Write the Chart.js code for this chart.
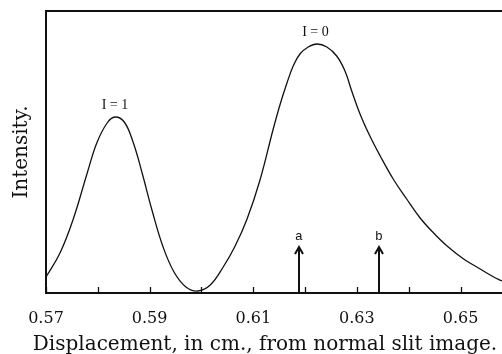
<!DOCTYPE html>
<html>
<head>
<meta charset="utf-8">
<script src="https://cdn.jsdelivr.net/npm/chart.js@4"></script>
<style>
  html, body { margin: 0; padding: 0; background: #fff; }
  #wrap { width: 502px; height: 354px; }
</style>
</head>
<body>
<div id="wrap"><canvas id="spectrum"></canvas></div>
<script>
// displacement (cm) and intensity (arbitrary units)
const displacement = [
  0.5700, 0.5727, 0.5752, 0.5779, 0.5798, 0.5818, 0.5833, 0.5851, 0.5868, 0.5885,
  0.5905, 0.5926, 0.5947, 0.5970, 0.5993, 0.6017, 0.6042, 0.6065, 0.6088, 0.6113,
  0.6138, 0.6152, 0.6165, 0.6177, 0.6190, 0.6206, 0.6223, 0.6242, 0.6261, 0.6277,
  0.6290, 0.6306, 0.6325, 0.6345, 0.6370, 0.6396, 0.6422, 0.6448, 0.6474, 0.6506,
  0.6538, 0.6564, 0.6580
];
const intensity = [
  16, 40, 73, 119, 150, 170, 176, 171, 151, 121,
  82, 46, 21, 6, 2, 8, 26, 47, 74, 113,
  163, 189, 210, 227, 239, 246, 249, 246, 237, 222,
  202, 179, 157, 137, 114, 94, 75, 60, 47, 34,
  24, 16, 12
];

const tickLabels = ["0.57", "", "0.59", "", "0.61", "", "0.63", "", "0.65"];
const xTitle = "Displacement, in cm., from normal slit image.";

const peakLabels = ["I = 1", "I = 0"];
const peakPositions = [0.5833, 0.6220];
const peakHeights = [176, 249];

const arrowLabels = ["a", "b"];
const arrowPositions = [0.6189, 0.6343];
const arrowHeights = [46, 46];

const serif = "'DejaVu Serif', serif";

// frame, inward ticks, peak labels, arrows and the x title
const annotations = {
  id: "annotations",
  afterDraw(chart) {
    const { ctx, chartArea: area, scales: { x, y } } = chart;
    ctx.save();
    ctx.strokeStyle = "#111";
    ctx.fillStyle = "#111";

    // top border
    ctx.lineWidth = 2;
    ctx.beginPath();
    ctx.moveTo(area.left, area.top);
    ctx.lineTo(area.right, area.top);
    ctx.stroke();

    // small ticks pointing up into the plot
    ctx.lineWidth = 1.3;
    ctx.beginPath();
    x.ticks.forEach(t => {
      const px = Math.round(x.getPixelForValue(t.value)) + 0.5;
      ctx.moveTo(px, area.bottom);
      ctx.lineTo(px, area.bottom - 6);
    });
    ctx.stroke();

    // peak labels
    ctx.font = "14px 'Liberation Serif', serif";
    ctx.textAlign = "center";
    ctx.textBaseline = "bottom";
    peakLabels.forEach((label, i) => {
      ctx.fillText(label, x.getPixelForValue(peakPositions[i]), y.getPixelForValue(peakHeights[i]) - 5);
    });

    // arrows a and b
    ctx.font = "13px 'Liberation Mono', monospace";
    arrowLabels.forEach((label, i) => {
      const px = Math.round(x.getPixelForValue(arrowPositions[i]));
      const tip = y.getPixelForValue(arrowHeights[i]);
      ctx.lineWidth = 2;
      ctx.beginPath();
      ctx.moveTo(px, area.bottom);
      ctx.lineTo(px, tip);
      ctx.moveTo(px - 4, tip + 7);
      ctx.lineTo(px, tip);
      ctx.lineTo(px + 4, tip + 7);
      ctx.stroke();
      ctx.fillText(label, px, tip - 4);
    });

    // x axis title, sits a little left of the plot centre in the original
    ctx.font = "20px " + serif;
    ctx.textBaseline = "alphabetic";
    ctx.fillText(xTitle, (area.left + area.right) / 2 - 9, chart.height - 4);
    ctx.restore();
  }
};

new Chart(document.getElementById("spectrum"), {
  type: "line",
  data: {
    datasets: [{
      data: displacement.map((d, i) => ({ x: d, y: intensity[i] })),
      borderColor: "#111",
      borderWidth: 1.3,
      pointRadius: 0,
      tension: 0.4,
      fill: false
    }]
  },
  options: {
    responsive: true,
    maintainAspectRatio: false,
    animation: false,
    layout: { padding: { top: 11, right: 0, bottom: 0, left: 0 } },
    plugins: {
      legend: { display: false },
      tooltip: { enabled: false }
    },
    scales: {
      x: {
        type: "linear",
        min: 0.57,
        max: 0.658,
        afterFit: s => { s.height = 61; },
        border: { display: true, color: "#111", width: 2 },
        grid: { display: false },
        ticks: {
          stepSize: 0.01,
          includeBounds: false,
          autoSkip: false,
          maxRotation: 0,
          padding: 8,
          color: "#111",
          font: { family: serif, size: 16 },
          callback: (v, i) => tickLabels[i] ?? ""
        }
      },
      y: {
        min: 0,
        max: 282,
        afterFit: s => { s.width = 46; },
        border: { display: true, color: "#111", width: 2 },
        grid: { display: false },
        ticks: { display: false },
        title: {
          display: true,
          text: "Intensity.",
          color: "#111",
          font: { family: serif, size: 20 },
          padding: { top: 10, bottom: 0 }
        }
      }
    }
  },
  plugins: [annotations]
});
</script>
</body>
</html>
